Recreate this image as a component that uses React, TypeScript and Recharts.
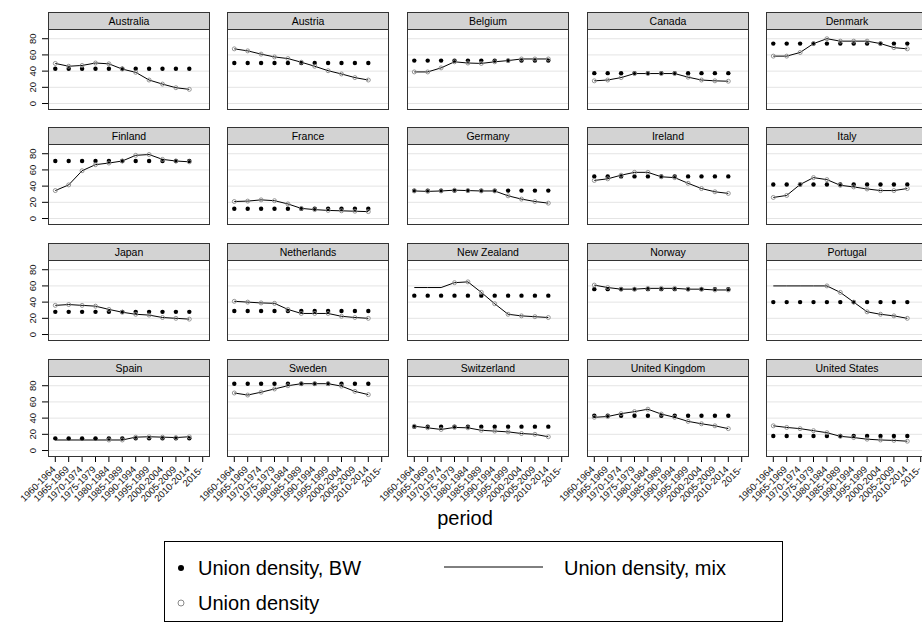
import React from "react";
import { ComposedChart, Line, XAxis, YAxis, ReferenceLine } from "recharts";

const periods = ["1960-1964","1965-1969","1970-1974","1975-1979","1980-1984","1985-1989","1990-1994","1995-1999","2000-2004","2005-2009","2010-2014","2015-"];
const yTicks = [0, 20, 40, 60, 80];
const countries = ["Australia","Austria","Belgium","Canada","Denmark","Finland","France","Germany","Ireland","Italy","Japan","Netherlands","New Zealand","Norway","Portugal","Spain","Sweden","Switzerland","United Kingdom","United States"];

// Union density, BW (per country, per period)
const bwAustralia = [43,43,43,43,43,43,43,43,43,43,43];
const bwAustria = [50,50,50,50,50,50,50,50,50,50,50];
const bwBelgium = [53,53,53,53,53,53,53,53,53,53,53];
const bwCanada = [37.5,37.5,37.5,37.5,37.5,37.5,37.5,37.5,37.5,37.5,37.5];
const bwDenmark = [74,74,74,74,74,74,74,74,74,74,74];
const bwFinland = [71,71,71,71,71,71,71,71,71,71,71];
const bwFrance = [12,12,12,12,12,12,12,12,12,12,12];
const bwGermany = [34.5,34.5,34.5,34.5,34.5,34.5,34.5,34.5,34.5,34.5,34.5];
const bwIreland = [52,52,52,52,52,52,52,52,52,52,52];
const bwItaly = [42,42,42,42,42,42,42,42,42,42,42];
const bwJapan = [28,28,28,28,28,28,28,28,28,28,28];
const bwNetherlands = [29,29,29,29,29,29,29,29,29,29,29];
const bwNewZealand = [48,48,48,48,48,48,48,48,48,48,48];
const bwNorway = [56,56,56,56,56,56,56,56,56,56,56];
const bwPortugal = [40,40,40,40,40,40,40,40,40,40,40];
const bwSpain = [15,15,15,15,15,15,15,15,15,15,15];
const bwSweden = [82.5,82.5,82.5,82.5,82.5,82.5,82.5,82.5,82.5,82.5,82.5];
const bwSwitzerland = [29.5,29.5,29.5,29.5,29.5,29.5,29.5,29.5,29.5,29.5,29.5];
const bwUK = [43,43,43,43,43,43,43,43,43,43,43];
const bwUS = [18,18,18,18,18,18,18,18,18,18,18];

// Union density
const udAustralia = [49.5,46,47,50,49,42.5,38.5,29,24,19.5,17.5];
const udAustria = [67.5,65,61,57.5,55.5,51,46,40.5,36.5,32,29];
const udBelgium = [39,39,44,51.5,50,49.5,51.5,53,55,55,55];
const udCanada = [28,29,32,37,37,37,37,32.5,29,28,27.5];
const udDenmark = [58.5,58.5,63,74,80,77,77,77,74,69,67.5];
const udFinland = [34.5,41.5,59,66.5,68.5,71,78,79,73,71,70];
const udFrance = [21,21.5,23,22,18,12.5,11,10,9.5,9,8.5];
const udGermany = [34,33.5,34,35,34.5,34,34,28,24,21,19];
const udIreland = [47,49,53.5,57,57,51.5,50.5,43.5,37,33,31];
const udItaly = [26,28.5,42,50.5,48,41,39,36.5,34.5,34.5,37];
const udJapan = [36,37,36,35,31,27.5,25,24,21,20,19];
const udNetherlands = [41,40,39,38.5,31,26,26,26,22.5,21,20];
const udNewZealand = [null,null,null,64,65,52,38,25,23,22,21];
const udNorway = [61,58,56,56,57,57,57,56,56,55,55];
const udPortugal = [null,null,null,null,60,52,40,28,25,23,20];
const udSpain = [null,null,null,null,13,13,16.5,17,16.5,16,17];
const udSweden = [71,68.5,72,76,80,82.5,82.5,82.5,79.5,73,69];
const udSwitzerland = [30,28,26,28.5,28,25,24,23,21,20,17];
const udUK = [41,42,45.5,48,51,45,41,36,33,30.5,27];
const udUS = [30.5,28.5,27,24.5,22,17.5,16,14,13,12.5,11.5];

// Union density, mix
const mixAustralia = [49.5,46,47,50,49,42.5,38.5,29,24,19.5,17.5];
const mixAustria = [67.5,65,61,57.5,55.5,51,46,40.5,36.5,32,29];
const mixBelgium = [39,39,44,51.5,50,49.5,51.5,53,55,55,55];
const mixCanada = [28,29,32,37,37,37,37,32.5,29,28,27.5];
const mixDenmark = [58.5,58.5,63,74,80,77,77,77,74,69,67.5];
const mixFinland = [34.5,41.5,59,66.5,68.5,71,78,79,73,71,70];
const mixFrance = [21,21.5,23,22,18,12.5,11,10,9.5,9,8.5];
const mixGermany = [34,33.5,34,35,34.5,34,34,28,24,21,19];
const mixIreland = [47,49,53.5,57,57,51.5,50.5,43.5,37,33,31];
const mixItaly = [26,28.5,42,50.5,48,41,39,36.5,34.5,34.5,37];
const mixJapan = [36,37,36,35,31,27.5,25,24,21,20,19];
const mixNetherlands = [41,40,39,38.5,31,26,26,26,22.5,21,20];
const mixNewZealand = [58,58,58,64,65,52,38,25,23,22,21];
const mixNorway = [61,58,56,56,57,57,57,56,56,55,55];
const mixPortugal = [60,60,60,60,60,52,40,28,25,23,20];
const mixSpain = [13,13,13,13,13,13,16.5,17,16.5,16,17];
const mixSweden = [71,68.5,72,76,80,82.5,82.5,82.5,79.5,73,69];
const mixSwitzerland = [30,28,26,28.5,28,25,24,23,21,20,17];
const mixUK = [41,42,45.5,48,51,45,41,36,33,30.5,27];
const mixUS = [30.5,28.5,27,24.5,22,17.5,16,14,13,12.5,11.5];

const bwAll = [bwAustralia,bwAustria,bwBelgium,bwCanada,bwDenmark,bwFinland,bwFrance,bwGermany,bwIreland,bwItaly,bwJapan,bwNetherlands,bwNewZealand,bwNorway,bwPortugal,bwSpain,bwSweden,bwSwitzerland,bwUK,bwUS];
const udAll = [udAustralia,udAustria,udBelgium,udCanada,udDenmark,udFinland,udFrance,udGermany,udIreland,udItaly,udJapan,udNetherlands,udNewZealand,udNorway,udPortugal,udSpain,udSweden,udSwitzerland,udUK,udUS];
const mixAll = [mixAustralia,mixAustria,mixBelgium,mixCanada,mixDenmark,mixFinland,mixFrance,mixGermany,mixIreland,mixItaly,mixJapan,mixNetherlands,mixNewZealand,mixNorway,mixPortugal,mixSpain,mixSweden,mixSwitzerland,mixUK,mixUS];

const FONT = '"Liberation Sans", Arial, sans-serif';
const colX = [48, 227, 407, 587, 766];
const rowY = [12, 127, 243, 359];
const PW = 162, PH = 81, SH = 17, YW = 48, XH = 70;
const xTicks = periods.map((_, i) => i + 1);

const YTick = (props: any) => {
  const { x, y, payload } = props;
  const bx = x - 4;
  return (
    <text x={bx} y={y} transform={`rotate(-90 ${bx} ${y})`} textAnchor="middle" fontSize={9.5} fill="#111" fontFamily={FONT}>
      {payload.value}
    </text>
  );
};

const XTick = (props: any) => {
  const { x, y, payload } = props;
  const ax = x + 1, ay = y + 6;
  return (
    <text x={ax} y={ay} transform={`rotate(-45 ${ax} ${ay})`} textAnchor="end" fontSize={9.5} fill="#111" fontFamily={FONT}>
      {periods[payload.value - 1]}
    </text>
  );
};

function Panel({ idx }: { idx: number }) {
  const row = Math.floor(idx / 5), col = idx % 5;
  const isLeft = col === 0, isBottom = row === 3;
  const data = udAll[idx].map((u, i) => ({ x: i + 1, bw: bwAll[idx][i], ud: u, mix: mixAll[idx][i] }));
  const chartW = PW + (isLeft ? YW : 0);
  const chartH = PH + (isBottom ? XH : 0);
  const left = colX[col], top = rowY[row];
  return (
    <>
      <div style={{ position: "absolute", left, top, width: PW, height: SH + 1, boxSizing: "border-box", border: "1px solid #333", background: "#d3d3d3", fontFamily: FONT, fontSize: 10.5, lineHeight: `${SH - 1}px`, textAlign: "center", color: "#000" }}>
        {countries[idx]}
      </div>
      <div style={{ position: "absolute", left: left - (isLeft ? YW : 0), top: top + SH }}>
        <ComposedChart width={chartW} height={chartH} data={data} margin={{ top: 0, right: 0, bottom: 0, left: 0 }}>
          <XAxis type="number" dataKey="x" domain={[0.455, 12.545]} allowDataOverflow ticks={xTicks} interval={0}
            hide={!isBottom} height={XH} axisLine={false} tickSize={5} tickLine={{ stroke: "#000" }} tick={<XTick />} />
          <YAxis type="number" domain={[-8, 92]} allowDataOverflow ticks={yTicks} interval={0}
            hide={!isLeft} width={YW} axisLine={false} tickSize={6} tickLine={{ stroke: "#000" }} tick={<YTick />} />
          {yTicks.map((t) => (
            <ReferenceLine key={t} y={t} stroke="#e4e4e4" strokeWidth={1} />
          ))}
          <Line dataKey="mix" stroke="#000" strokeWidth={1} dot={false} isAnimationActive={false} connectNulls={false} />
          <Line dataKey="bw" stroke="none" dot={{ r: 2.2, fill: "#000", stroke: "none" }} isAnimationActive={false} />
          <Line dataKey="ud" stroke="none" dot={{ r: 2, fill: "none", stroke: "#8a8a8a", strokeWidth: 0.9 }} isAnimationActive={false} />
        </ComposedChart>
      </div>
      <div style={{ position: "absolute", left, top: top + SH, width: PW, height: PH, boxSizing: "border-box", border: "1px solid #333", pointerEvents: "none" }} />
    </>
  );
}

export default function App() {
  return (
    <div style={{ position: "absolute", left: 0, top: 0, width: 922, height: 624, overflow: "hidden", background: "#fff" }}>
      <style>{`.recharts-surface{overflow:visible !important}.recharts-wrapper{overflow:visible !important}`}</style>
      {countries.map((_, i) => (
        <Panel key={i} idx={i} />
      ))}
      <div style={{ position: "absolute", left: 0, width: 930, top: 507, textAlign: "center", fontFamily: FONT, fontSize: 20, color: "#000" }}>period</div>
      <svg style={{ position: "absolute", left: 0, top: 0 }} width={922} height={624}>
        <rect x={164.5} y={541.5} width={618} height={80} fill="none" stroke="#000" strokeWidth={1} />
        <circle cx={181} cy={568} r={3} fill="#000" />
        <text x={198} y={575} fontSize={20} fontFamily={FONT} fill="#000">Union density, BW</text>
        <line x1={444} y1={567} x2={543} y2={567} stroke="#000" strokeWidth={1} />
        <text x={564} y={575} fontSize={20} fontFamily={FONT} fill="#000">Union density, mix</text>
        <circle cx={181} cy={603} r={3} fill="none" stroke="#8a8a8a" strokeWidth={1} />
        <text x={198} y={610} fontSize={20} fontFamily={FONT} fill="#000">Union density</text>
      </svg>
    </div>
  );
}
